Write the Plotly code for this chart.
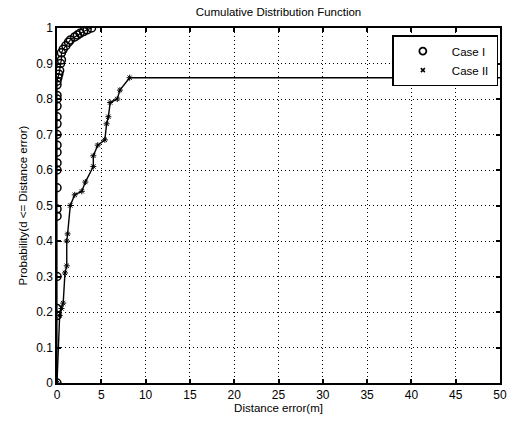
import plotly.graph_objects as go

# Case I (circles)
case1_x = [0, 0, 0, 0, 0, 0, 0, 0, 0, 0, 0, 0, 0, 0, 0, 0, 0, 0, 0,
           0.1, 0.2, 0.3, 0.4, 0.5, 0.5, 0.7, 1.0, 1.3, 1.5, 2.0, 2.3, 2.6, 3.0, 3.4, 3.9]
case1_y = [0, 0.19, 0.21, 0.30, 0.47, 0.49, 0.55, 0.60, 0.62, 0.65, 0.67, 0.70, 0.73, 0.75,
           0.78, 0.80, 0.81, 0.84, 0.85, 0.86, 0.87, 0.88, 0.90, 0.91, 0.93, 0.94, 0.95, 0.96,
           0.966, 0.975, 0.98, 0.985, 0.99, 0.995, 1.0]

# Case II (asterisks)
case2_x = [0, 0.3, 0.5, 0.7, 0.9, 1.1, 1.1, 1.2, 1.5, 2.0, 2.8, 3.2, 4.1, 4.1, 4.6, 5.4,
           5.6, 5.8, 6.0, 6.8, 7.1, 8.2]
case2_y = [0, 0.19, 0.21, 0.225, 0.31, 0.33, 0.40, 0.42, 0.50, 0.53, 0.54, 0.566, 0.61, 0.64,
           0.67, 0.685, 0.73, 0.75, 0.79, 0.80, 0.825, 0.86]
case2_tail_x = [8.2, 50]
case2_tail_y = [0.86, 0.86]

x_ticks = [0, 5, 10, 15, 20, 25, 30, 35, 40, 45, 50]
y_ticks = [0, 0.1, 0.2, 0.3, 0.4, 0.5, 0.6, 0.7, 0.8, 0.9, 1]
y_tick_labels = ["0", "0.1", "0.2", "0.3", "0.4", "0.5", "0.6", "0.7", "0.8", "0.9", "1"]

FONT = "Liberation Sans, Arial, sans-serif"

fig = go.Figure()
fig.add_trace(go.Scatter(x=case1_x, y=case1_y, mode="lines+markers", name="Case I",
                         line=dict(color="black", width=1.2),
                         marker=dict(symbol="circle-open", size=8, color="black",
                                     line=dict(width=1.5, color="black")),
                         showlegend=False))
fig.add_trace(go.Scatter(x=case2_x, y=case2_y, mode="lines+markers", name="Case II",
                         line=dict(color="black", width=1.4),
                         marker=dict(symbol="asterisk-open", size=5, color="black",
                                     line=dict(width=1, color="black")),
                         showlegend=False))
fig.add_trace(go.Scatter(x=case2_tail_x, y=case2_tail_y, mode="lines",
                         line=dict(color="black", width=1.6), showlegend=False))
# legend entries (markers only)
fig.add_trace(go.Scatter(x=[None], y=[None], mode="markers", name="Case I ",
                         marker=dict(symbol="circle-open", size=7, color="black",
                                     line=dict(width=1.8, color="black"))))
fig.add_trace(go.Scatter(x=[None], y=[None], mode="markers", name="Case II ",
                         marker=dict(symbol="x-thin-open", size=4, color="black",
                                     line=dict(width=1.5, color="black"))))

axis_common = dict(showline=True, linecolor="black", linewidth=1.5, mirror="ticks",
                   ticks="inside", ticklen=4, tickcolor="black", tickwidth=1.5,
                   showgrid=True, gridcolor="black", griddash="1px,3px", gridwidth=1,
                   zeroline=False, automargin=False,
                   tickfont=dict(family=FONT, size=12, color="black"))

fig.update_layout(
    width=511, height=421,
    margin=dict(l=57, r=11, t=28, b=38),
    paper_bgcolor="white", plot_bgcolor="white",
    title=dict(text="Cumulative Distribution Function", x=0.545, xanchor="center",
               y=0.972, yanchor="middle",
               font=dict(family=FONT, size=11.5, color="black")),
    xaxis=dict(range=[0, 50], tickvals=x_ticks,
               title=dict(text="Distance error(m]", standoff=2,
                          font=dict(family=FONT, size=11.5, color="black")),
               **axis_common),
    yaxis=dict(range=[0, 1], tickvals=y_ticks, ticktext=y_tick_labels,
               title=dict(text="Probability(d <= Distance error)", standoff=6,
                          font=dict(family=FONT, size=11.5, color="black")),
               **axis_common),
    legend=dict(x=0.757, y=0.98, xanchor="left", yanchor="top",
                bgcolor="white", bordercolor="black", borderwidth=1.5,
                font=dict(family=FONT, size=11.5, color="black"),
                itemwidth=48, tracegroupgap=0),
    showlegend=True,
)

fig.write_html("out.html", post_script="document.body.style.margin='0';",
               config={"displayModeBar": False})
